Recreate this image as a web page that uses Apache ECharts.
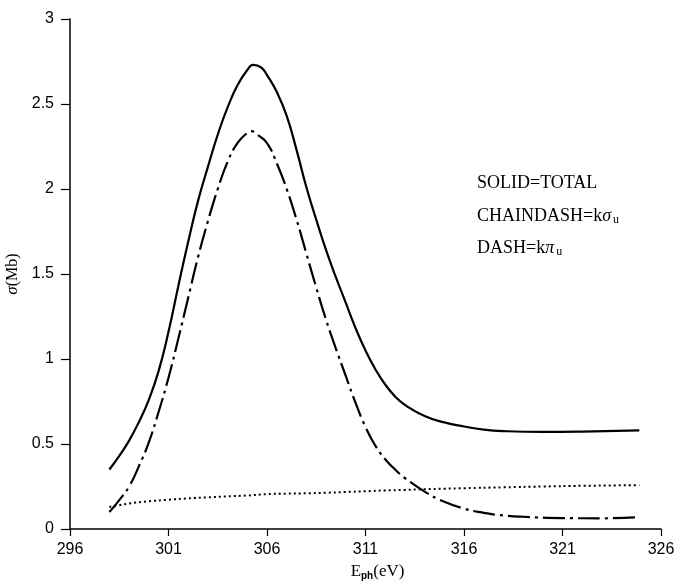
<!DOCTYPE html>
<html>
<head>
<meta charset="utf-8">
<script src="https://cdn.jsdelivr.net/npm/echarts@6/dist/echarts.min.js"></script>
<style>
html,body{margin:0;padding:0;background:#fff;}
#chart{width:677px;height:583px;}
</style>
</head>
<body>
<div id="chart"></div>
<script>
// X tick labels
var xTicks = [296, 301, 306, 311, 316, 321, 326];

// SOLID = TOTAL
var totalX = [298.0, 298.5, 299.0, 299.5, 300.0, 300.5, 301.0, 301.5, 302.0, 302.5, 303.0, 303.5, 304.0, 304.5, 305.0, 305.3, 305.7, 306.0, 306.5, 307.0, 307.5, 308.0, 308.5, 309.0, 309.5, 310.0, 310.5, 311.0, 311.5, 312.0, 312.5, 313.0, 314.0, 315.0, 316.0, 317.0, 318.0, 320.0, 322.0, 324.9];
var totalY = [0.35, 0.43, 0.52, 0.63, 0.76, 0.93, 1.16, 1.43, 1.69, 1.93, 2.13, 2.32, 2.48, 2.61, 2.70, 2.73, 2.715, 2.67, 2.57, 2.43, 2.23, 2.01, 1.82, 1.64, 1.48, 1.33, 1.18, 1.05, 0.94, 0.85, 0.78, 0.73, 0.665, 0.627, 0.603, 0.585, 0.576, 0.571, 0.573, 0.580];

// CHAINDASH = k sigma_u
var sigmaX = [298.0, 298.5, 299.0, 299.5, 300.0, 300.5, 301.0, 301.5, 302.0, 302.5, 303.0, 303.5, 304.0, 304.5, 305.0, 305.2, 305.5, 306.0, 306.5, 307.0, 307.5, 308.0, 308.5, 309.0, 309.5, 310.0, 310.5, 311.0, 311.5, 312.0, 312.5, 313.0, 314.0, 315.0, 316.0, 317.0, 318.0, 319.0, 321.0, 323.0, 324.9];
var sigmaY = [0.10, 0.17, 0.25, 0.37, 0.51, 0.69, 0.89, 1.12, 1.36, 1.60, 1.81, 2.00, 2.16, 2.27, 2.33, 2.34, 2.32, 2.27, 2.15, 2.00, 1.82, 1.62, 1.42, 1.23, 1.06, 0.90, 0.74, 0.60, 0.49, 0.41, 0.35, 0.30, 0.22, 0.16, 0.12, 0.095, 0.08, 0.072, 0.064, 0.063, 0.070];

// DASH = k pi_u
var piX = [298.0, 298.5, 299.0, 300.0, 301.0, 302.0, 303.0, 304.0, 305.0, 306.0, 307.0, 308.0, 309.0, 310.0, 311.0, 312.0, 313.0, 314.0, 315.0, 316.0, 318.0, 320.0, 322.0, 324.9];
var piY = [0.13, 0.14, 0.15, 0.163, 0.172, 0.18, 0.186, 0.192, 0.197, 0.205, 0.208, 0.21, 0.213, 0.218, 0.222, 0.227, 0.23, 0.234, 0.237, 0.24, 0.245, 0.25, 0.254, 0.258];

function pairs(xs, ys) { return xs.map(function (x, i) { return [x, ys[i]]; }); }

var chart = echarts.init(document.getElementById('chart'), null, {renderer: 'canvas'});
var sans = 'Liberation Sans';
var serif = 'Liberation Serif';

chart.setOption({
  animation: false,
  backgroundColor: '#fff',
  grid: {left: 70, right: 16, top: 19, bottom: 54, containLabel: false, outerBoundsMode: 'none'},
  xAxis: {
    type: 'value', min: 296, max: 326,
    name: '{e|E}{s|ph}{e|(eV)}',
    nameLocation: 'middle', nameGap: 34,
    nameTextStyle: {
      padding: [0, 0, 0, 24],
      rich: {
        e: {fontFamily: serif, fontSize: 17, color: '#000'},
        s: {fontFamily: sans, fontSize: 10, fontWeight: 'bold', color: '#000', padding: [8, 0, 0, 0]}
      }
    },
    axisLine: {show: true, lineStyle: {color: '#000', width: 1.5}},
    axisTick: {show: true, length: 7, customValues: xTicks, lineStyle: {color: '#000', width: 1.2}},
    axisLabel: {customValues: xTicks, color: '#000', fontFamily: sans, fontSize: 16, margin: 13},
    splitLine: {show: false}
  },
  yAxis: {
    type: 'value', min: 0, max: 3, interval: 0.5,
    name: '{g|σ}{t|(Mb)}',
    nameLocation: 'middle', nameGap: 38, nameRotate: 90,
    nameTextStyle: {
      rich: {
        g: {fontFamily: serif, fontStyle: 'italic', fontSize: 17, color: '#000'},
        t: {fontFamily: serif, fontSize: 16, color: '#000'}
      }
    },
    axisLine: {show: true, lineStyle: {color: '#000', width: 1.5}},
    axisTick: {show: true, length: 9, lineStyle: {color: '#000', width: 1.2}},
    axisLabel: {color: '#000', fontFamily: sans, fontSize: 16, margin: 16},
    splitLine: {show: false}
  },
  series: [
    {
      name: 'TOTAL', type: 'line', data: pairs(totalX, totalY), smooth: 0.5,
      showSymbol: false, lineStyle: {color: '#000', width: 2.2, type: 'solid'}
    },
    {
      name: 'k sigma_u', type: 'line', data: pairs(sigmaX, sigmaY), smooth: 0.5,
      showSymbol: false, lineStyle: {color: '#000', width: 2.2, type: [22, 5, 3, 5]}
    },
    {
      name: 'k pi_u', type: 'line', data: pairs(piX, piY), smooth: 0.5,
      showSymbol: false, lineStyle: {color: '#000', width: 2, type: [2, 3]}
    }
  ],
  graphic: [
    {type: 'text', x: 477, y: 183, style: {text: 'SOLID=TOTAL', fontFamily: serif, fontSize: 18, fill: '#000', verticalAlign: 'middle'}},
    {type: 'text', x: 477, y: 216, style: {
      text: '{a|CHAINDASH=k}{g|σ}{s|u}', verticalAlign: 'middle',
      rich: {
        a: {fontFamily: serif, fontSize: 18, color: '#000'},
        g: {fontFamily: serif, fontStyle: 'italic', fontSize: 18, color: '#000'},
        s: {fontFamily: serif, fontSize: 12, color: '#000', padding: [8, 0, 0, 2]}
      }
    }},
    {type: 'text', x: 477, y: 248, style: {
      text: '{a|DASH=k}{g|π}{s|u}', verticalAlign: 'middle',
      rich: {
        a: {fontFamily: serif, fontSize: 18, color: '#000'},
        g: {fontFamily: serif, fontStyle: 'italic', fontSize: 18, color: '#000'},
        s: {fontFamily: serif, fontSize: 12, color: '#000', padding: [8, 0, 0, 2]}
      }
    }}
  ]
});
</script>
</body>
</html>
